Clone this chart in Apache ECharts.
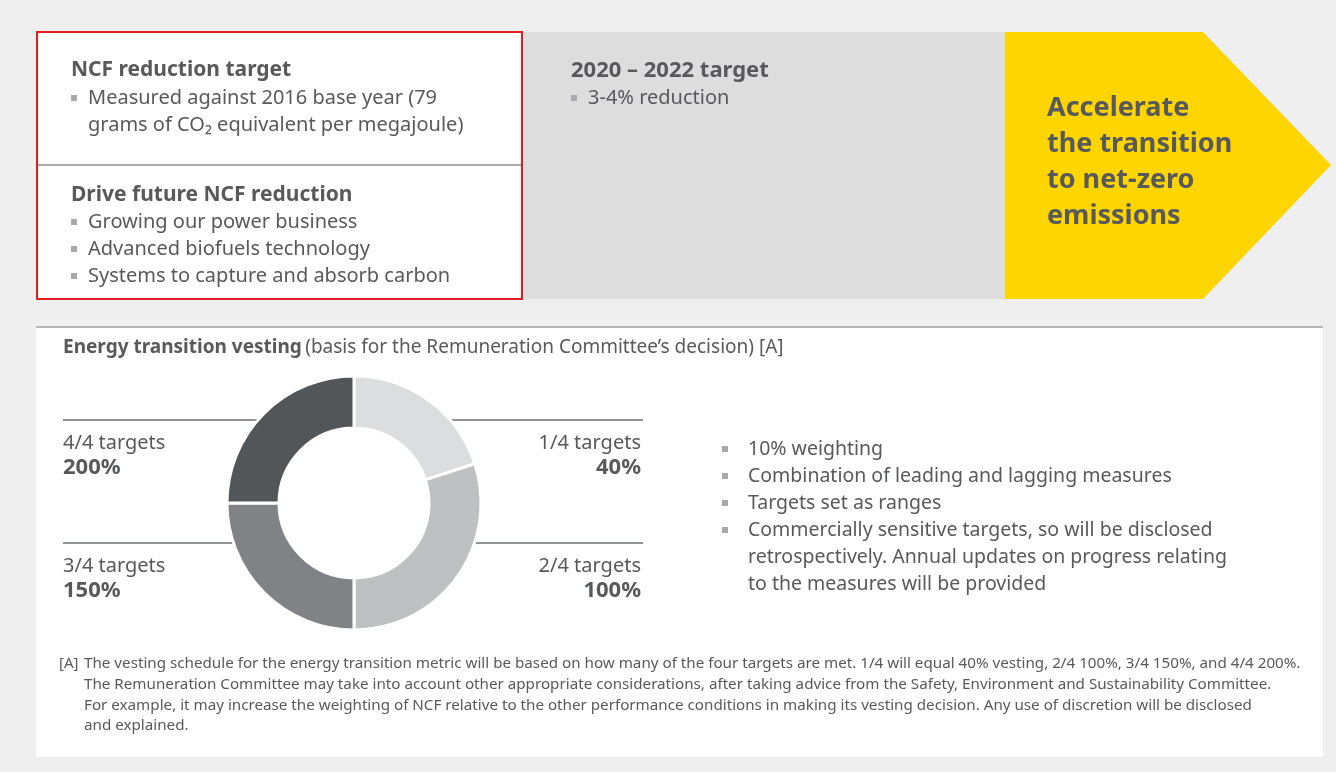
<!DOCTYPE html>
<html>
<head>
<meta charset="utf-8">
<script src="https://cdn.jsdelivr.net/npm/echarts@6/dist/echarts.min.js"></script>
<style>
  html, body { margin: 0; padding: 0; background: #efefef; }
  #main { width: 1336px; height: 772px; }
</style>
</head>
<body>
<div id="main"></div>
<script>
// slices of the donut, clockwise from 12 o'clock
var targets = ['1/4 targets', '2/4 targets', '3/4 targets', '4/4 targets'];
var vesting = ['40%', '100%', '150%', '200%'];
var shares = [20, 30, 25, 25];
var sliceColors = ['#dcddde', '#bfc0c2', '#808285', '#525659'];

var ncfBullets = ['Measured against 2016 base year (79', 'grams of CO\u2082 equivalent per megajoule)'];
var driveBullets = ['Growing our power business', 'Advanced biofuels technology', 'Systems to capture and absorb carbon'];
var targetBullets = ['3-4% reduction'];
var arrowLines = ['Accelerate', 'the transition', 'to net-zero', 'emissions'];
var sideBullets = [
    ['10% weighting'],
    ['Combination of leading and lagging measures'],
    ['Targets set as ranges'],
    ['Commercially sensitive targets, so will be disclosed', 'retrospectively. Annual updates on progress relating', 'to the measures will be provided']
];
var footnote = [
    'The vesting schedule for the energy transition metric will be based on how many of the four targets are met. 1/4 will equal 40% vesting, 2/4 100%, 3/4 150%, and 4/4 200%.',
    'The Remuneration Committee may take into account other appropriate considerations, after taking advice from the Safety, Environment and Sustainability Committee.',
    'For example, it may increase the weighting of NCF relative to the other performance conditions in making its vesting decision. Any use of discretion will be disclosed',
    'and explained.'
];

var TXT = '#58595b';
var FONT = '"Noto Sans", sans-serif';

function txt(x, y, s, size, bold, align) {
    return {
        type: 'text', x: x, y: y, z: 10,
        style: {
            text: s, fill: TXT, fontFamily: FONT, fontSize: size,
            fontWeight: bold ? 'bold' : 'normal',
            textAlign: align || 'left', textVerticalAlign: 'middle'
        }
    };
}
function bullet(x, y) {
    return { type: 'rect', z: 10, shape: { x: x, y: y - 3, width: 6, height: 6 }, style: { fill: '#a7a9ac' } };
}
function hline(x1, x2, y) {
    return { type: 'line', z: 5, shape: { x1: x1, y1: y, x2: x2, y2: y }, style: { stroke: '#6d6e71', lineWidth: 1.5 } };
}

var g = [];
// top band
g.push({ type: 'rect', shape: { x: 37, y: 32, width: 485, height: 267 }, style: { fill: '#ffffff', stroke: '#e31b23', lineWidth: 2 } });
g.push({ type: 'line', shape: { x1: 38, y1: 165, x2: 521, y2: 165 }, style: { stroke: '#58595b', lineWidth: 1 } });
g.push({ type: 'rect', shape: { x: 523, y: 32, width: 483, height: 267 }, style: { fill: '#dddddd' } });
g.push({ type: 'polygon', shape: { points: [[1005, 32], [1203, 32], [1331, 165], [1203, 299], [1005, 299]] }, style: { fill: '#ffd500' } });

g.push(txt(71, 70, 'NCF reduction target', 21, true));
ncfBullets.forEach(function (s, i) {
    if (i === 0) g.push(bullet(71, 98));
    g.push(txt(88, 98 + i * 27, s, 20, false));
});
g.push(txt(71, 195, 'Drive future NCF reduction', 21, true));
driveBullets.forEach(function (s, i) {
    g.push(bullet(71, 222 + i * 27));
    g.push(txt(88, 222 + i * 27, s, 20, false));
});
g.push(txt(571, 71, '2020 \u2013 2022 target', 22, true));
targetBullets.forEach(function (s, i) {
    g.push(bullet(571, 98 + i * 27));
    g.push(txt(588, 98 + i * 27, s, 20, false));
});
arrowLines.forEach(function (s, i) {
    g.push(txt(1047, 108 + i * 36, s, 27, true));
});

// bottom panel
g.push({ type: 'rect', shape: { x: 36, y: 327, width: 1287, height: 430 }, style: { fill: '#ffffff' } });
g.push({ type: 'line', shape: { x1: 36, y1: 327, x2: 1323, y2: 327 }, style: { stroke: '#a0a0a0', lineWidth: 1.5 } });
g.push({
    type: 'text', x: 63, y: 348, z: 10,
    style: {
        text: '{b|Energy transition vesting} {r|(basis for the Remuneration Committee\u2019s decision) [A]}',
        textVerticalAlign: 'middle',
        rich: {
            b: { fontFamily: FONT, fontSize: 19, fontWeight: 'bold', fill: TXT },
            r: { fontFamily: FONT, fontSize: 19, fill: TXT }
        }
    }
});

// leader lines beside the donut
g.push(hline(63, 258, 420));
g.push(hline(450, 643, 420));
g.push(hline(63, 234, 543));
g.push(hline(474, 643, 543));

// labels from data arrays: right side = first two slices, left side = last two
g.push(txt(641, 443, targets[0], 20, false, 'right'));
g.push(txt(641, 468, vesting[0], 22, true, 'right'));
g.push(txt(641, 566, targets[1], 20, false, 'right'));
g.push(txt(641, 591, vesting[1], 22, true, 'right'));
g.push(txt(63, 443, targets[3], 20, false));
g.push(txt(63, 468, vesting[3], 22, true));
g.push(txt(63, 566, targets[2], 20, false));
g.push(txt(63, 591, vesting[2], 22, true));

var yy = 449;
sideBullets.forEach(function (lines) {
    g.push(bullet(722, yy));
    lines.forEach(function (s) {
        g.push(txt(748, yy, s, 19.5, false));
        yy += 27;
    });
});

footnote.forEach(function (s, i) {
    if (i === 0) g.push(txt(59, 664, '[A]', 15, false));
    g.push(txt(84, 664 + i * 20.7, s, 15.2, false));
});

var chart = echarts.init(document.getElementById('main'));
chart.setOption({
    backgroundColor: '#efefef',
    animation: false,
    graphic: { elements: g },
    series: [{
        type: 'pie',
        z: 20,
        center: [354, 503],
        radius: [75, 127],
        startAngle: 90,
        clockwise: true,
        silent: true,
        label: { show: false },
        labelLine: { show: false },
        itemStyle: { borderColor: '#ffffff', borderWidth: 3 },
        data: shares.map(function (v, i) {
            return { name: targets[i], value: v, itemStyle: { color: sliceColors[i] } };
        })
    }]
});
</script>
</body>
</html>
